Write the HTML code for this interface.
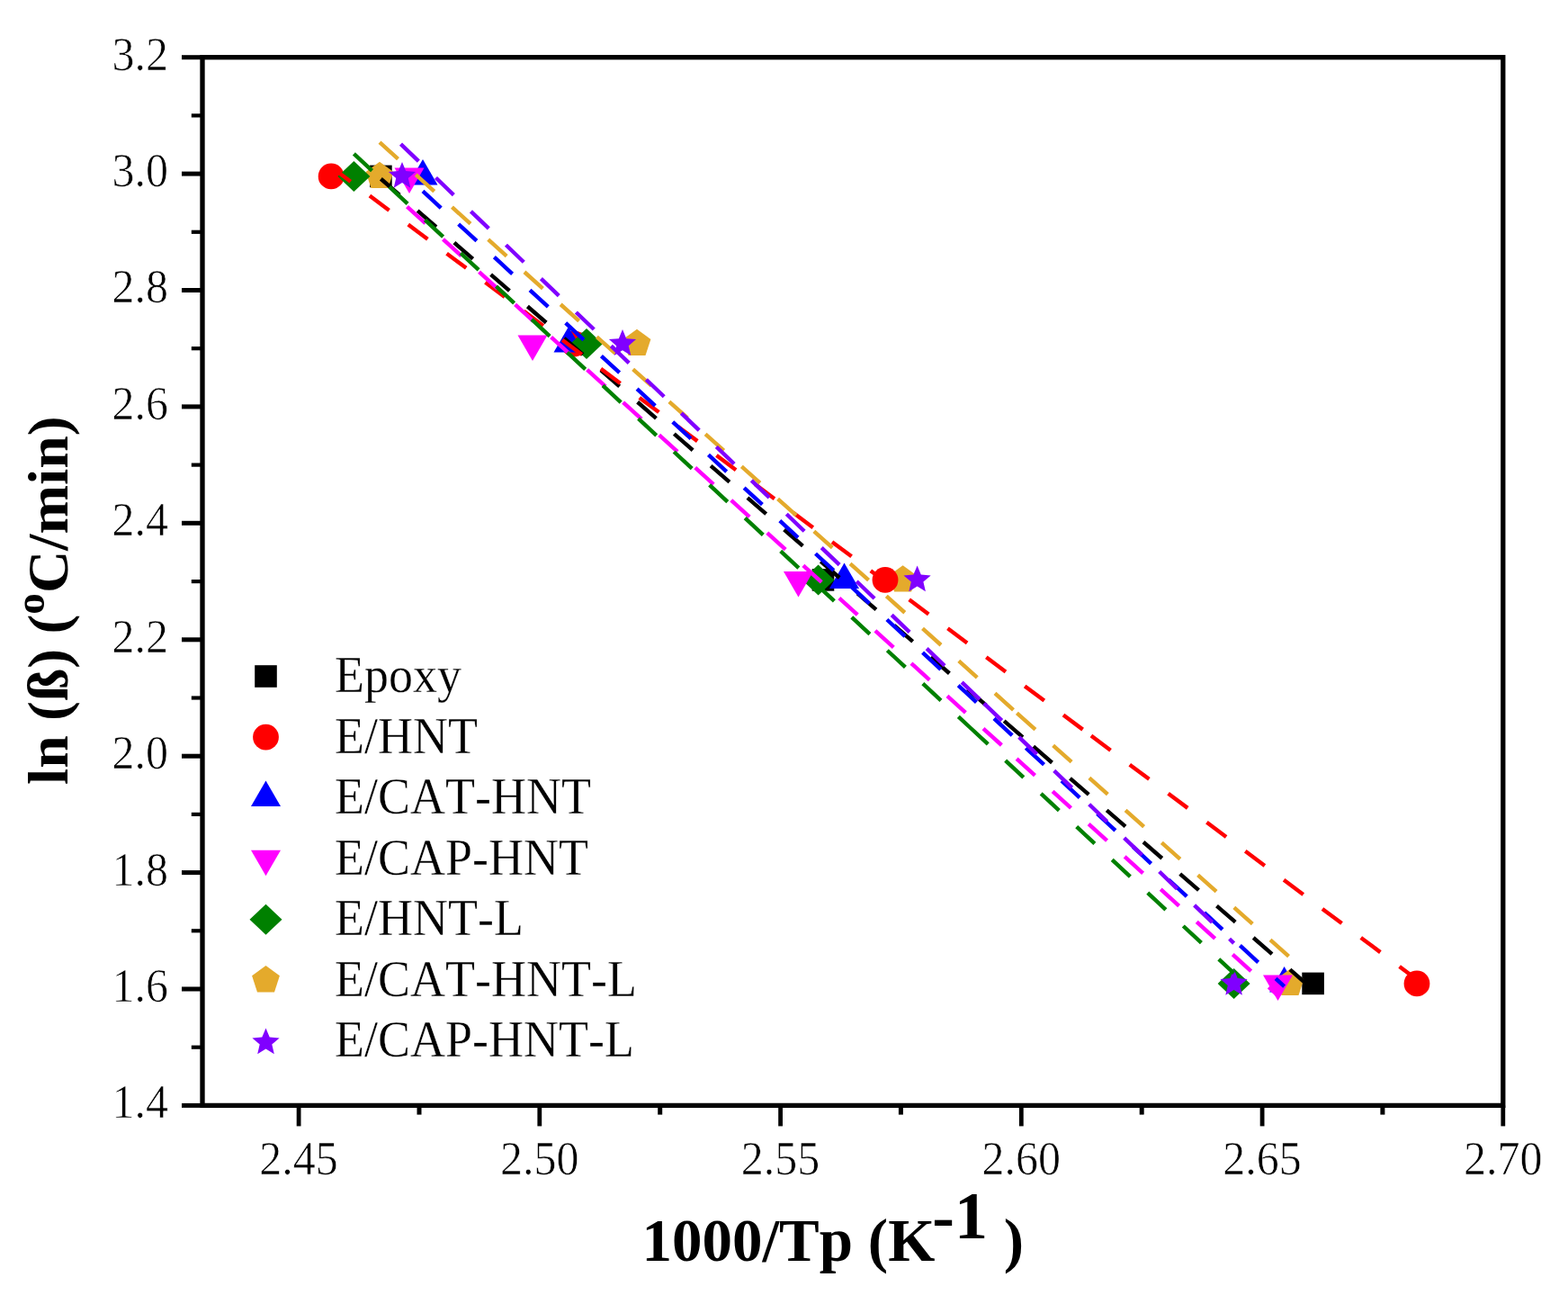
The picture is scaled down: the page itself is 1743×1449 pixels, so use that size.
<!DOCTYPE html>
<html><head><meta charset="utf-8"><title>ln(beta) vs 1000/Tp</title>
<style>
html,body{margin:0;padding:0;background:#fff;}
svg{display:block;}
text{font-family:"Liberation Serif",serif;fill:#000;}
.t{font-size:50px;stroke:#fff;stroke-width:0.6px;}
.lg{font-size:54px;font-kerning:none;stroke:#fff;stroke-width:0.3px;}
.ax{font-size:67px;font-weight:bold;}
.ay{font-size:64px;font-weight:bold;}
</style></head><body>
<svg width="1743" height="1449" viewBox="0 0 1743 1449">
<rect width="1743" height="1449" fill="#fff"/>
<g>
<rect x="411.1" y="183.6" width="24.6" height="24.6" fill="#000000"/>
<polygon points="470.0,176.9 486.5,205.4 453.5,205.4" fill="#0000ff"/>
<polygon points="422.0,179.7 437.4,190.9 431.5,209.0 412.5,209.0 406.6,190.9" fill="#e4aa2c"/>
<circle cx="368.1" cy="195.9" r="14.4" fill="#ff0000"/>
<polygon points="393.4,178.9 411.4,195.9 393.4,212.9 375.4,195.9" fill="#008000"/>
<polygon points="455.0,214.9 471.5,186.4 438.5,186.4" fill="#ff00ff"/>
<polygon points="447.0,180.0 451.2,190.1 462.1,191.0 453.8,198.1 456.3,208.8 447.0,203.1 437.7,208.8 440.2,198.1 431.9,191.0 442.8,190.1" fill="#8000ff"/>
<rect x="631.7" y="369.7" width="24.6" height="24.6" fill="#000000"/>
<polygon points="708.0,365.8 723.4,377.0 717.5,395.1 698.5,395.1 692.6,377.0" fill="#e4aa2c"/>
<circle cx="638.0" cy="382.0" r="14.4" fill="#ff0000"/>
<polygon points="632.0,363.0 648.5,391.5 615.5,391.5" fill="#0000ff"/>
<polygon points="652.0,365.0 670.0,382.0 652.0,399.0 634.0,382.0" fill="#008000"/>
<polygon points="592.0,401.0 608.5,372.5 575.5,372.5" fill="#ff00ff"/>
<polygon points="692.0,366.1 696.2,376.2 707.1,377.1 698.8,384.2 701.3,394.9 692.0,389.2 682.7,394.9 685.2,384.2 676.9,377.1 687.8,376.2" fill="#8000ff"/>
<rect x="902.7" y="632.1" width="24.6" height="24.6" fill="#000000"/>
<polygon points="938.5,625.4 955.0,653.9 922.0,653.9" fill="#0000ff"/>
<polygon points="1003.6,628.2 1019.0,639.4 1013.1,657.5 994.1,657.5 988.2,639.4" fill="#e4aa2c"/>
<circle cx="984.0" cy="644.4" r="14.4" fill="#ff0000"/>
<polygon points="909.6,627.4 927.6,644.4 909.6,661.4 891.6,644.4" fill="#008000"/>
<polygon points="887.5,663.4 904.0,634.9 871.0,634.9" fill="#ff00ff"/>
<polygon points="1019.6,628.5 1023.8,638.6 1034.7,639.5 1026.4,646.6 1028.9,657.3 1019.6,651.6 1010.3,657.3 1012.8,646.6 1004.5,639.5 1015.4,638.6" fill="#8000ff"/>
<rect x="1447.3" y="1080.6" width="24.6" height="24.6" fill="#000000"/>
<polygon points="1427.6,1073.9 1444.1,1102.4 1411.1,1102.4" fill="#0000ff"/>
<polygon points="1434.0,1076.7 1449.4,1087.9 1443.5,1106.0 1424.5,1106.0 1418.6,1087.9" fill="#e4aa2c"/>
<circle cx="1575.0" cy="1092.9" r="14.4" fill="#ff0000"/>
<polygon points="1371.6,1075.9 1389.6,1092.9 1371.6,1109.9 1353.6,1092.9" fill="#008000"/>
<polygon points="1420.5,1111.9 1437.0,1083.4 1404.0,1083.4" fill="#ff00ff"/>
<polygon points="1371.6,1077.0 1375.8,1087.1 1386.7,1088.0 1378.4,1095.1 1380.9,1105.8 1371.6,1100.1 1362.3,1105.8 1364.8,1095.1 1356.5,1088.0 1367.4,1087.1" fill="#8000ff"/>
</g>
<g fill="none" stroke-width="4.4" stroke-dasharray="27.5 26.5">
<path d="M423.40,198.74L1148.74,829.43M1148.74,829.43L1459.60,1099.72" stroke="#000000"/>
<path d="M368.10,185.50L1212.93,817.60M1212.93,817.60L1575.00,1088.50" stroke="#ff0000" stroke-dasharray="27 26.5"/>
<path d="M470.00,212.41L1140.32,831.01M1140.32,831.01L1427.60,1096.12" stroke="#0000ff"/>
<path d="M452.50,229.68L1130.10,843.13M1130.10,843.13L1420.50,1106.04" stroke="#ff00ff"/>
<path d="M393.40,170.86L1078.14,808.24M1078.14,808.24L1371.60,1081.41" stroke="#008000"/>
<path d="M422.00,158.18L1130.40,792.29M1130.40,792.29L1434.00,1064.04" stroke="#e4aa2c"/>
<path d="M445.50,160.14L1093.77,781.67M1093.77,781.67L1371.60,1048.04" stroke="#8000ff"/>
</g>
<rect x="225.0" y="63.7" width="1445.8" height="1164.7" fill="none" stroke="#000" stroke-width="5.3"/>
<line x1="202.0" y1="1228.4" x2="225.0" y2="1228.4" stroke="#000" stroke-width="5"/>
<text class="t" transform="translate(187,1242.3) scale(1,1.05)" text-anchor="end">1.4</text>
<line x1="212.8" y1="1163.7" x2="225.0" y2="1163.7" stroke="#000" stroke-width="4.2"/>
<line x1="202.0" y1="1099.0" x2="225.0" y2="1099.0" stroke="#000" stroke-width="5"/>
<text class="t" transform="translate(187,1112.9) scale(1,1.05)" text-anchor="end">1.6</text>
<line x1="212.8" y1="1034.3" x2="225.0" y2="1034.3" stroke="#000" stroke-width="4.2"/>
<line x1="202.0" y1="969.6" x2="225.0" y2="969.6" stroke="#000" stroke-width="5"/>
<text class="t" transform="translate(187,983.5) scale(1,1.05)" text-anchor="end">1.8</text>
<line x1="212.8" y1="904.9" x2="225.0" y2="904.9" stroke="#000" stroke-width="4.2"/>
<line x1="202.0" y1="840.2" x2="225.0" y2="840.2" stroke="#000" stroke-width="5"/>
<text class="t" transform="translate(187,854.1) scale(1,1.05)" text-anchor="end">2.0</text>
<line x1="212.8" y1="775.5" x2="225.0" y2="775.5" stroke="#000" stroke-width="4.2"/>
<line x1="202.0" y1="710.8" x2="225.0" y2="710.8" stroke="#000" stroke-width="5"/>
<text class="t" transform="translate(187,724.7) scale(1,1.05)" text-anchor="end">2.2</text>
<line x1="212.8" y1="646.1" x2="225.0" y2="646.1" stroke="#000" stroke-width="4.2"/>
<line x1="202.0" y1="581.3" x2="225.0" y2="581.3" stroke="#000" stroke-width="5"/>
<text class="t" transform="translate(187,595.2) scale(1,1.05)" text-anchor="end">2.4</text>
<line x1="212.8" y1="516.6" x2="225.0" y2="516.6" stroke="#000" stroke-width="4.2"/>
<line x1="202.0" y1="451.9" x2="225.0" y2="451.9" stroke="#000" stroke-width="5"/>
<text class="t" transform="translate(187,465.8) scale(1,1.05)" text-anchor="end">2.6</text>
<line x1="212.8" y1="387.2" x2="225.0" y2="387.2" stroke="#000" stroke-width="4.2"/>
<line x1="202.0" y1="322.5" x2="225.0" y2="322.5" stroke="#000" stroke-width="5"/>
<text class="t" transform="translate(187,336.4) scale(1,1.05)" text-anchor="end">2.8</text>
<line x1="212.8" y1="257.8" x2="225.0" y2="257.8" stroke="#000" stroke-width="4.2"/>
<line x1="202.0" y1="193.1" x2="225.0" y2="193.1" stroke="#000" stroke-width="5"/>
<text class="t" transform="translate(187,207.0) scale(1,1.05)" text-anchor="end">3.0</text>
<line x1="212.8" y1="128.4" x2="225.0" y2="128.4" stroke="#000" stroke-width="4.2"/>
<line x1="202.0" y1="63.7" x2="225.0" y2="63.7" stroke="#000" stroke-width="5"/>
<text class="t" transform="translate(187,77.6) scale(1,1.05)" text-anchor="end">3.2</text>
<line x1="332.1" y1="1228.4" x2="332.1" y2="1251.4" stroke="#000" stroke-width="4.8"/>
<text class="t" transform="translate(332.1,1304.6) scale(1,1.05)" text-anchor="middle">2.45</text>
<line x1="466.0" y1="1228.4" x2="466.0" y2="1238.6" stroke="#000" stroke-width="5"/>
<line x1="599.8" y1="1228.4" x2="599.8" y2="1251.4" stroke="#000" stroke-width="4.8"/>
<text class="t" transform="translate(599.8,1304.6) scale(1,1.05)" text-anchor="middle">2.50</text>
<line x1="733.7" y1="1228.4" x2="733.7" y2="1238.6" stroke="#000" stroke-width="5"/>
<line x1="867.6" y1="1228.4" x2="867.6" y2="1251.4" stroke="#000" stroke-width="4.8"/>
<text class="t" transform="translate(867.6,1304.6) scale(1,1.05)" text-anchor="middle">2.55</text>
<line x1="1001.4" y1="1228.4" x2="1001.4" y2="1238.6" stroke="#000" stroke-width="5"/>
<line x1="1135.3" y1="1228.4" x2="1135.3" y2="1251.4" stroke="#000" stroke-width="4.8"/>
<text class="t" transform="translate(1135.3,1304.6) scale(1,1.05)" text-anchor="middle">2.60</text>
<line x1="1269.2" y1="1228.4" x2="1269.2" y2="1238.6" stroke="#000" stroke-width="5"/>
<line x1="1403.1" y1="1228.4" x2="1403.1" y2="1251.4" stroke="#000" stroke-width="4.8"/>
<text class="t" transform="translate(1403.1,1304.6) scale(1,1.05)" text-anchor="middle">2.65</text>
<line x1="1536.9" y1="1228.4" x2="1536.9" y2="1238.6" stroke="#000" stroke-width="5"/>
<line x1="1670.8" y1="1228.4" x2="1670.8" y2="1251.4" stroke="#000" stroke-width="4.8"/>
<text class="t" transform="translate(1670.8,1304.6) scale(1,1.05)" text-anchor="middle">2.70</text>
<rect x="283.2" y="739.2" width="24.6" height="24.6" fill="#000000"/>
<text class="lg" transform="translate(372,769.0) scale(1,1.05)">Epoxy</text>
<circle cx="295.5" cy="819.1" r="14.4" fill="#ff0000"/>
<text class="lg" transform="translate(372,836.6) scale(1,1.05)">E/HNT</text>
<polygon points="295.5,867.6 312.0,896.1 279.0,896.1" fill="#0000ff"/>
<text class="lg" transform="translate(372,904.1) scale(1,1.05)">E/CAT-HNT</text>
<polygon points="295.5,973.2 312.0,944.7 279.0,944.7" fill="#ff00ff"/>
<text class="lg" transform="translate(372,971.7) scale(1,1.05)">E/CAP-HNT</text>
<polygon points="295.5,1004.8 313.5,1021.8 295.5,1038.8 277.5,1021.8" fill="#008000"/>
<text class="lg" transform="translate(372,1039.3) scale(1,1.05)">E/HNT-L</text>
<polygon points="295.5,1073.1 310.9,1084.3 305.0,1102.5 286.0,1102.5 280.1,1084.3" fill="#e4aa2c"/>
<text class="lg" transform="translate(372,1106.8) scale(1,1.05)">E/CAT-HNT-L</text>
<polygon points="295.5,1142.5 299.7,1152.6 310.6,1153.5 302.3,1160.6 304.8,1171.3 295.5,1165.6 286.2,1171.3 288.7,1160.6 280.4,1153.5 291.3,1152.6" fill="#8000ff"/>
<text class="lg" transform="translate(372,1174.4) scale(1,1.05)">E/CAP-HNT-L</text>
<text class="ax" x="713.5" y="1401">1000/Tp (K<tspan dx="-3" dy="-25" font-size="74">-1</tspan><tspan dx="1" dy="25"> )</tspan></text>
<text class="ay" transform="translate(74.7,872) rotate(-90) scale(1.024,1)" x="0" y="0">ln (ß) (<tspan dy="-25.7" font-size="46">o</tspan><tspan dy="25.7">C/min)</tspan></text>
</svg>
</body></html>
